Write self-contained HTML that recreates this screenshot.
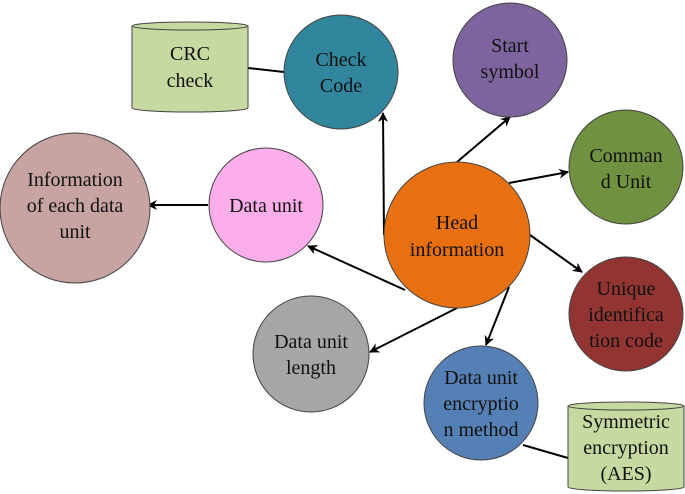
<!DOCTYPE html>
<html><head><meta charset="utf-8"><style>html,body{margin:0;padding:0;background:#fff}svg{display:block}svg text{font-family:"Liberation Serif","Times New Roman","DejaVu Serif",serif;font-size:20px;fill:#111;text-anchor:middle}</style></head><body>
<svg width="685" height="494" viewBox="0 0 685 494" xmlns="http://www.w3.org/2000/svg" font-family="Liberation Serif, Times New Roman, DejaVu Serif, serif">
<defs><marker id="a" markerWidth="10" markerHeight="10" refX="9" refY="5" orient="auto" markerUnits="userSpaceOnUse"><path d="M0,0 L10,5 L0,10 L3,5 z" fill="#000"/></marker></defs>
<g stroke="#000" stroke-width="2" fill="none">
<line x1="248" y1="68" x2="284" y2="72"/>
<line x1="523" y1="445" x2="568" y2="458"/>
<line x1="384" y1="235" x2="383" y2="113" marker-end="url(#a)"/>
<line x1="457" y1="162" x2="510" y2="117" marker-end="url(#a)"/>
<line x1="509" y1="183" x2="568" y2="172" marker-end="url(#a)"/>
<line x1="530" y1="235" x2="582" y2="272" marker-end="url(#a)"/>
<line x1="509" y1="287" x2="486" y2="345" marker-end="url(#a)"/>
<line x1="457" y1="308" x2="370" y2="352" marker-end="url(#a)"/>
<line x1="405" y1="290" x2="308" y2="246" marker-end="url(#a)"/>
<line x1="208" y1="205" x2="148" y2="205" marker-end="url(#a)"/>
</g>
<g stroke="#444" stroke-width="1">
<path d="M132,26 L132,108 A58,4 0 0 0 248,108 L248,26" fill="#c6d9a0"/>
<ellipse cx="190" cy="26" rx="58" ry="4" fill="#c6d9a0"/>
<path d="M568,406 L568,487 A58,4 0 0 0 684,487 L684,406" fill="#c6d9a0"/>
<ellipse cx="626" cy="406" rx="58" ry="4" fill="#c6d9a0"/>
<circle cx="341" cy="72" r="57" fill="#31859c"/>
<circle cx="510" cy="60" r="57" fill="#7e649e"/>
<circle cx="626" cy="167" r="57" fill="#6f9140"/>
<circle cx="75" cy="208" r="75" fill="#c7a3a2"/>
<circle cx="266" cy="205" r="57" fill="#fbaee9"/>
<circle cx="457" cy="235" r="73" fill="#e97010"/>
<circle cx="626" cy="314" r="57" fill="#923532"/>
<circle cx="311" cy="354" r="58" fill="#a6a6a6"/>
<circle cx="481" cy="403" r="57" fill="#5580b5"/>
</g>
<text x="190" y="60">CRC</text><text x="190" y="87">check</text>
<text x="341" y="66">Check</text><text x="341" y="92">Code</text>
<text x="510" y="52">Start</text><text x="510" y="78">symbol</text>
<text x="626" y="162">Comman</text><text x="626" y="188">d Unit</text>
<text x="75" y="186">Information</text><text x="75" y="212">of each data</text><text x="75" y="238">unit</text>
<text x="266" y="212">Data unit</text>
<text x="457" y="229">Head</text><text x="457" y="256">information</text>
<text x="626" y="295">Unique</text><text x="626" y="321">identifica</text><text x="626" y="347">tion code</text>
<text x="311" y="348">Data unit</text><text x="311" y="374">length</text>
<text x="481" y="384">Data unit</text><text x="481" y="410">encryptio</text><text x="481" y="436">n method</text>
<text x="626" y="428">Symmetric</text><text x="626" y="454">encryption</text><text x="626" y="480">(AES)</text>
</svg>
</body></html>
